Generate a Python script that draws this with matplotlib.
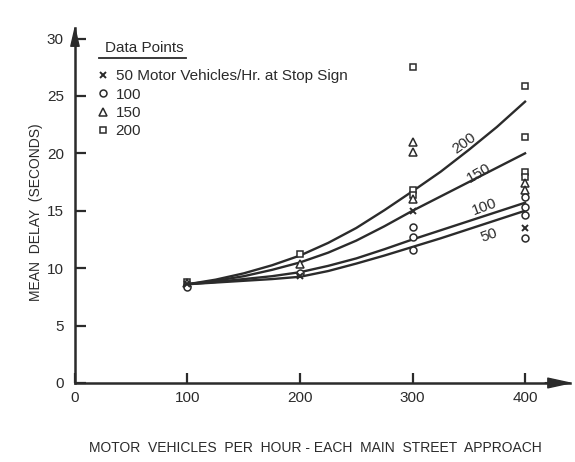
import numpy as np
import matplotlib.pyplot as plt
from matplotlib.lines import Line2D

# curves (mean delay)
curve_x = [100, 125, 150, 175, 200, 225, 250, 275, 300, 325, 350, 375, 400]
curve_50 = [8.6, 8.75, 8.9, 9.05, 9.25, 9.75, 10.4, 11.1, 11.85, 12.6, 13.4, 14.2, 15.0]
curve_100 = [8.6, 8.8, 9.05, 9.3, 9.65, 10.2, 10.85, 11.65, 12.5, 13.3, 14.1, 14.9, 15.7]
curve_150 = [8.6, 8.9, 9.3, 9.85, 10.5, 11.35, 12.4, 13.65, 15.0, 16.25, 17.5, 18.75, 20.0]
curve_200 = [8.6, 9.0, 9.55, 10.25, 11.1, 12.2, 13.5, 15.05, 16.7, 18.4, 20.3, 22.3, 24.5]

# observed data points
x_50 = [100, 200, 300, 400]
y_50 = [8.6, 9.3, 15.0, 13.5]
x_100 = [100, 200, 300, 300, 300, 400, 400, 400, 400]
y_100 = [8.4, 9.6, 13.6, 12.7, 11.6, 16.2, 15.3, 14.6, 12.6]
x_150 = [100, 200, 300, 300, 300, 400, 400]
y_150 = [8.7, 10.4, 21.0, 20.1, 16.0, 17.4, 16.8]
x_200 = [100, 200, 300, 300, 300, 400, 400, 400, 400]
y_200 = [8.8, 11.2, 27.5, 16.8, 16.4, 25.9, 21.4, 18.4, 17.9]

xticks = [0, 100, 200, 300, 400]
yticks = [0, 5, 10, 15, 20, 25, 30]

ink = '#2b2b2b'
plt.rcParams['font.family'] = ['Liberation Sans', 'DejaVu Sans']

fig = plt.figure(figsize=(5.75, 4.62), dpi=100)
ax = fig.add_axes([0.1304, 0.171, 0.861, 0.768])

ax.plot(curve_x, curve_200, color=ink, lw=1.7)
ax.plot(curve_x, curve_150, color=ink, lw=1.7)
ax.plot(curve_x, curve_100, color=ink, lw=1.7)
ax.plot(curve_x, curve_50, color=ink, lw=1.7)

ax.plot(x_200, y_200, 's', ms=4.5, mfc='white', mec=ink, mew=1.1, ls='none',
        label='200')
ax.plot(x_150, y_150, '^', ms=5.5, mfc='white', mec=ink, mew=1.1, ls='none',
        label='150')
ax.plot(x_100, y_100, 'o', ms=5, mfc='white', mec=ink, mew=1.1, ls='none',
        label='100')
ax.plot(x_50, y_50, 'x', ms=4, mec=ink, mew=1.4, ls='none',
        label='50 Motor Vehicles/Hr. at Stop Sign')

# curve labels
ax.text(346, 20.9, '200', rotation=36, fontsize=11, color=ink, ha='center', va='center')
ax.text(359, 18.3, '150', rotation=30, fontsize=11, color=ink, ha='center', va='center')
ax.text(364, 15.3, '100', rotation=20, fontsize=11, color=ink, ha='center', va='center')
ax.text(368, 12.9, '50', rotation=20, fontsize=11, color=ink, ha='center', va='center')

ax.set_xlim(0, 440)
ax.set_ylim(0, 30.9)
ax.set_xticks(xticks)
ax.set_yticks(yticks)
ax.tick_params(direction='in', length=8, width=1.6, colors=ink, labelsize=11,
               pad=8)
ax.tick_params(axis='x', length=7, pad=6)
for s in ['top', 'right']:
    ax.spines[s].set_visible(False)
for s in ['left', 'bottom']:
    ax.spines[s].set_color(ink)
    ax.spines[s].set_linewidth(1.8)

# arrow heads on the axes
ax.annotate('', xy=(1.0, 0), xytext=(0.95, 0), xycoords='axes fraction',
            arrowprops=dict(facecolor=ink, edgecolor=ink, width=0.5,
                            headwidth=7, headlength=16))
ax.annotate('', xy=(0, 1.0), xytext=(0, 0.96), xycoords='axes fraction',
            arrowprops=dict(facecolor=ink, edgecolor=ink, width=0.5,
                            headwidth=6, headlength=13))

# legend title, underlined, then the entries below it
title = ax.text(0.06, 0.945, 'Data Points', transform=ax.transAxes,
                fontsize=11, color=ink, ha='left', va='center')
handles, labels = ax.get_legend_handles_labels()
leg = ax.legend(handles[::-1], labels[::-1], loc='upper left',
                bbox_to_anchor=(0.048, 0.884), frameon=False, fontsize=11,
                handlelength=0.6, handletextpad=0.5, labelspacing=0.28,
                borderaxespad=0, borderpad=0)
for t in leg.get_texts():
    t.set_color(ink)

fig.text(0.548, 0.03, 'MOTOR  VEHICLES  PER  HOUR - EACH  MAIN  STREET  APPROACH',
         ha='center', va='center', fontsize=10, color=ink)
fig.text(0.062, 0.54, 'MEAN  DELAY  (SECONDS)', rotation=90, ha='center',
         va='center', fontsize=10, color=ink)

fig.canvas.draw()
bb = title.get_window_extent().transformed(fig.transFigure.inverted())
fig.add_artist(Line2D([bb.x0 - 0.01, bb.x1 + 0.005], [bb.y0 - 0.008, bb.y0 - 0.008],
                      color=ink, lw=1.3, transform=fig.transFigure))

fig.savefig('out.png', dpi=100)
